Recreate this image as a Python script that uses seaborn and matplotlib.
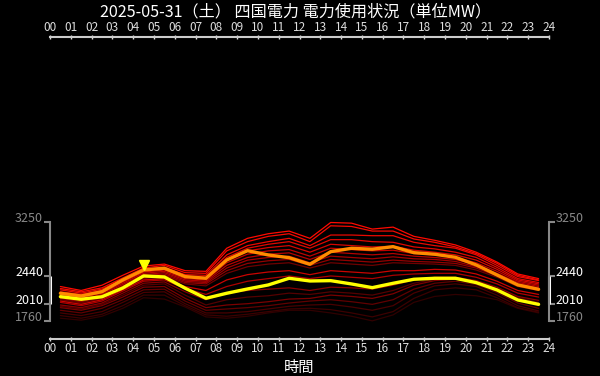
import numpy as np
import pandas as pd
import matplotlib
matplotlib.use("Agg")
import matplotlib.pyplot as plt
import matplotlib.transforms as mtransforms
import seaborn as sns

# hourly values (plotted at the half hour), MW
hours = [h + 0.5 for h in range(24)]

# past days of the month, oldest first
past_days = [
    [1800, 1770, 1830, 1950, 2110, 2090, 1970, 1820, 1800, 1830, 1880, 1920, 1920, 1880, 1830, 1760, 1850, 2040, 2130, 2160, 2140, 2080, 1950, 1880],
    [1840, 1800, 1860, 1990, 2150, 2150, 1990, 1850, 1830, 1860, 1900, 1940, 1950, 1930, 1880, 1820, 1900, 2100, 2230, 2260, 2230, 2110, 1960, 1890],
    [1880, 1840, 1900, 2040, 2190, 2200, 2020, 1880, 1880, 1900, 1940, 1980, 2000, 2010, 1970, 1920, 1990, 2180, 2290, 2320, 2280, 2150, 1990, 1910],
    [1980, 1940, 2010, 2150, 2300, 2320, 2150, 2000, 2080, 2120, 2140, 2180, 2160, 2200, 2180, 2150, 2220, 2330, 2390, 2400, 2360, 2250, 2110, 2040],
    [1920, 1880, 1950, 2080, 2230, 2240, 2060, 1920, 1940, 1960, 1990, 2030, 2060, 2080, 2050, 2010, 2080, 2240, 2330, 2360, 2310, 2190, 2030, 1950],
    [2080, 2030, 2100, 2250, 2400, 2430, 2320, 2290, 2480, 2580, 2620, 2640, 2560, 2640, 2620, 2600, 2640, 2630, 2620, 2600, 2530, 2420, 2280, 2220],
    [1960, 1920, 1990, 2120, 2270, 2280, 2100, 1960, 2000, 2020, 2050, 2090, 2100, 2150, 2130, 2100, 2170, 2300, 2370, 2390, 2340, 2230, 2080, 2000],
    [2000, 1960, 2030, 2180, 2330, 2350, 2200, 2080, 2180, 2220, 2240, 2260, 2220, 2270, 2260, 2240, 2300, 2380, 2420, 2420, 2370, 2270, 2130, 2070],
    [2100, 2050, 2120, 2270, 2420, 2450, 2340, 2320, 2520, 2630, 2670, 2690, 2600, 2690, 2670, 2650, 2680, 2660, 2650, 2630, 2560, 2440, 2300, 2240],
    [2120, 2070, 2140, 2290, 2440, 2470, 2360, 2340, 2560, 2680, 2720, 2740, 2640, 2740, 2720, 2700, 2730, 2700, 2690, 2660, 2580, 2460, 2320, 2260],
    [2040, 1990, 2060, 2210, 2360, 2380, 2250, 2160, 2280, 2360, 2400, 2440, 2400, 2440, 2420, 2400, 2450, 2470, 2480, 2480, 2420, 2320, 2180, 2120],
    [2140, 2090, 2160, 2310, 2460, 2490, 2380, 2360, 2600, 2720, 2770, 2790, 2690, 2800, 2780, 2760, 2780, 2740, 2720, 2690, 2610, 2480, 2340, 2280],
    [2160, 2110, 2180, 2330, 2480, 2510, 2400, 2380, 2640, 2770, 2820, 2840, 2740, 2860, 2840, 2820, 2830, 2780, 2760, 2720, 2640, 2510, 2360, 2300],
    [2060, 2010, 2080, 2230, 2380, 2400, 2280, 2220, 2380, 2460, 2500, 2520, 2460, 2520, 2500, 2480, 2520, 2520, 2540, 2530, 2470, 2360, 2220, 2160],
    [2180, 2130, 2200, 2350, 2500, 2530, 2420, 2400, 2680, 2820, 2870, 2900, 2800, 2920, 2900, 2880, 2890, 2830, 2800, 2760, 2680, 2540, 2380, 2320],
    [2200, 2160, 2220, 2370, 2520, 2550, 2440, 2420, 2720, 2860, 2920, 2960, 2860, 2990, 2990, 2960, 2950, 2880, 2850, 2800, 2720, 2570, 2400, 2340],
    [2230, 2180, 2240, 2390, 2540, 2570, 2460, 2450, 2760, 2900, 2960, 3010, 2900, 3060, 3060, 3050, 3050, 2950, 2900, 2860, 2760, 2600, 2430, 2370],
    [2250, 2200, 2260, 2410, 2560, 2600, 2490, 2480, 2820, 2960, 3040, 3080, 2960, 3200, 3190, 3120, 3120, 3000, 2950, 2880, 2780, 2630, 2450, 2380],
    [2280, 2220, 2300, 2450, 2590, 2620, 2520, 2510, 2860, 3010, 3080, 3120, 3010, 3250, 3240, 3150, 3180, 3040, 2980, 2910, 2800, 2650, 2470, 2400],
]
yesterday = [2178, 2137, 2202, 2380, 2531, 2557, 2430, 2405, 2682, 2823, 2758, 2717, 2617, 2808, 2859, 2845, 2884, 2793, 2769, 2723, 2607, 2455, 2304, 2238]
today = [2126, 2087, 2125, 2258, 2440, 2425, 2254, 2102, 2178, 2243, 2304, 2405, 2364, 2369, 2319, 2263, 2329, 2390, 2405, 2405, 2339, 2228, 2076, 2010]

title = "2025-05-31（土） 四国電力 電力使用状況（単位MW）"
tick_labels = [f"{h:02d}" for h in range(25)]

sns.set_style("dark", {"axes.facecolor": "black", "figure.facecolor": "black",
                       "axes.grid": False})
plt.rcParams["font.family"] = ["Noto Sans CJK JP", "DejaVu Sans"]

red_df = pd.DataFrame([
    {"day": f"d{i:02d}", "hour": h, "mw": v}
    for i, row in enumerate(past_days) for h, v in zip(hours, row)
])
day_order = [f"d{i:02d}" for i in range(len(past_days))]
reds = sns.blend_palette(["#300000", "#a00000", "#ff0a00"], n_colors=len(day_order))

fig = plt.figure(figsize=(6, 3.76), dpi=100)
ax = fig.add_axes([50 / 600, 1 - 339 / 376, 499 / 600, 302 / 376])

sns.lineplot(data=red_df, x="hour", y="mw", hue="day", hue_order=day_order,
             palette=reds, legend=False, linewidth=0.9, estimator=None, ax=ax)
sns.lineplot(x=hours, y=yesterday, color="#ff8c00", linewidth=2.4, ax=ax)
sns.lineplot(x=hours, y=today, color="#ffff00", linewidth=2.4, ax=ax)

# peak marker above today's maximum
peak_i = int(np.argmax(today))
tri = mtransforms.offset_copy(ax.transData, fig=fig, y=11, units="dots")
ax.plot(hours[peak_i], today[peak_i], marker="v", color="#ffff00", ms=7,
        transform=tri, clip_on=False)

all_min = min(min(r) for r in past_days + [yesterday, today])
all_max = max(max(r) for r in past_days + [yesterday, today])
t_min, t_max = min(today), max(today)

ax.set_xlim(0, 24)
ax.set_ylim(1485, 6060)
ax.set_xticks(range(25))
ax.set_xticklabels(tick_labels)
ax.set_yticks([all_min, t_min, t_max, all_max])
ax.set_yticklabels([str(all_min), str(t_min), str(t_max), str(all_max)])
ax.set_xlabel("")
ax.set_ylabel("")

ax.tick_params(axis="x", top=True, labeltop=True, bottom=True, labelbottom=True,
               colors="#dddddd", length=3, width=1, direction="inout",
               labelsize=8.5, pad=1)
ax.tick_params(axis="y", left=True, right=True, labelleft=True, labelright=True,
               length=4, width=1.5, direction="out", labelsize=9, pad=1,
               colors="#888888")

for side in ["top", "bottom"]:
    ax.spines[side].set_color("#cccccc")
    ax.spines[side].set_linewidth(1.5)
for side in ["left", "right"]:
    ax.spines[side].set_visible(True)
    ax.spines[side].set_bounds(all_min, all_max)
    ax.spines[side].set_color("#888888")
    ax.spines[side].set_linewidth(1.5)

# today's range drawn white on both sides
yt = ax.get_yaxis_transform()
for xpos in [0, 1]:
    ax.plot([xpos, xpos], [t_min, t_max], color="white", lw=2.2, transform=yt,
            clip_on=False, solid_capstyle="butt")
for tk in ax.yaxis.get_major_ticks()[1:3]:
    tk.tick1line.set_color("white")
    tk.tick2line.set_color("white")
    tk.label1.set_color("white")
    tk.label2.set_color("white")

# y labels sit a little above their ticks
lift = mtransforms.ScaledTranslation(0, 5 / 100, fig.dpi_scale_trans)
for tk in ax.yaxis.get_major_ticks():
    for lab in (tk.label1, tk.label2):
        lab.set_transform(lab.get_transform() + lift)

fig.text(0.4933, 1 - 12 / 376, title, color="white", fontsize=11.6,
         ha="center", va="center")
fig.text(0.4992, 1 - 367 / 376, "時間", color="white", fontsize=11,
         ha="center", va="center")

fig.savefig("out.png", dpi=100, facecolor="black")
